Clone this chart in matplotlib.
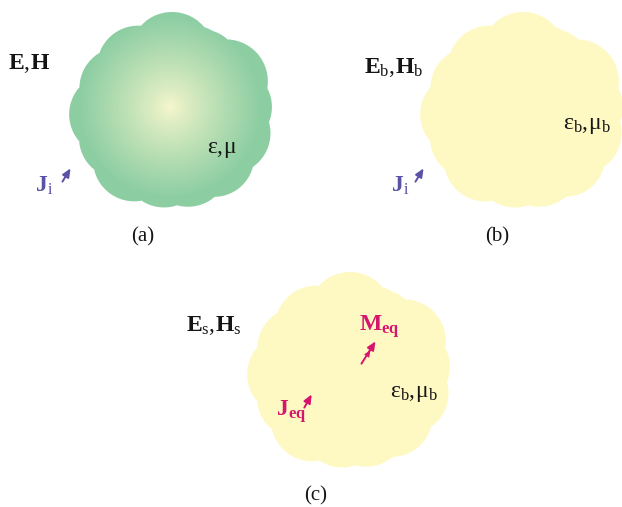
import matplotlib
matplotlib.use("Agg")
import matplotlib.pyplot as plt
import numpy as np

plt.rcParams["mathtext.fontset"] = "custom"
plt.rcParams["mathtext.rm"] = "Liberation Serif"
plt.rcParams["mathtext.bf"] = "Liberation Serif:bold"
plt.rcParams["mathtext.it"] = "Liberation Serif:italic"

# cloud outline: a core circle plus scallop circles (angle in deg, distance, radius)
core_r = 89
bump_ang = [-90, -55, -28, -3, 22, 48, 74, 98, 127, 152, 176, 203, 232]
bump_dist = [56, 52, 61, 60, 62, 63, 58, 57, 63, 60, 62, 56, 55]
bump_r = [42, 38, 42, 40, 41, 40, 41, 41, 41, 40, 41, 41, 41]

# cloud centres for panels a, b, c
cloud_x = [172, 523, 350]
cloud_y = [110, 110, 370]
panel_labels = ["(a)", "(b)", "(c)"]
label_x = [143, 497, 316]
label_y = [237, 237, 496]

green_edge = np.array([140, 205, 162]) / 255
pale_centre = np.array([248, 247, 205]) / 255
yellow = np.array([254, 249, 194]) / 255
purple = "#5a52a4"
magenta = "#d6156f"
ink = "#151515"


def draw_cloud(ax, cx, cy, inner, outer):
    # pixel centred grid so the image maps 1:1 onto the output pixels
    x0, y0 = int(cx) - 115, int(cy) - 115
    x = np.arange(x0, x0 + 230) + 0.5
    y = np.arange(y0, y0 + 230) + 0.5
    X, Y = np.meshgrid(x, y)
    d = np.hypot(X - cx, Y - cy) - core_r
    for a, dist, r in zip(bump_ang, bump_dist, bump_r):
        bx = cx + dist * np.cos(np.radians(a))
        by = cy + dist * np.sin(np.radians(a))
        d = np.minimum(d, np.hypot(X - bx, Y - by) - r)
    alpha = np.clip(0.5 - d, 0, 1)
    t = np.clip(np.hypot(X - cx + 2, Y - cy + 3) / 92, 0, 1) ** 0.85
    rgb = inner[None, None, :] * (1 - t[..., None]) + outer[None, None, :] * t[..., None]
    img = np.dstack([rgb, alpha])
    ax.imshow(img, extent=(x0, x0 + 230, y0 + 230, y0), origin="upper",
              interpolation="none", zorder=1)


fig = plt.figure(figsize=(6.22, 5.07), dpi=100)
ax = fig.add_axes([0, 0, 1, 1])
ax.axis("off")

draw_cloud(ax, cloud_x[0], cloud_y[0], pale_centre, green_edge)
draw_cloud(ax, cloud_x[1], cloud_y[1], yellow, yellow)
draw_cloud(ax, cloud_x[2], cloud_y[2], yellow, yellow)
ax.set_xlim(0, 622)
ax.set_ylim(507, 0)

fs = 17
txt = dict(fontsize=fs, color=ink, zorder=3, va="baseline", ha="left")
arrow = dict(arrowstyle="-|>,head_length=0.5,head_width=0.22", lw=1.4)

# panel a
ax.text(8, 69, r"$\mathbf{E},\!\mathbf{H}$", **txt)
ax.text(207, 153, r"$\mathrm{ε},\!\mathrm{μ}$", **txt)
ax.text(35, 192, r"$\mathbf{J}_{\mathrm{i}}$", fontsize=fs, color=purple,
        va="baseline", ha="left", zorder=3)
ax.annotate("", xy=(72, 166), xytext=(61, 184),
            arrowprops=dict(color=purple, **arrow), zorder=3)

# panel b
ax.text(364, 73, r"$\mathbf{E}_{\mathrm{b}},\!\mathbf{H}_{\mathrm{b}}$", **txt)
ax.text(563, 129, r"$\mathrm{ε}_{\mathrm{b}},\!\mathrm{μ}_{\mathrm{b}}$", **txt)
ax.text(391, 192, r"$\mathbf{J}_{\mathrm{i}}$", fontsize=fs, color=purple,
        va="baseline", ha="left", zorder=3)
ax.annotate("", xy=(425, 166), xytext=(414, 184),
            arrowprops=dict(color=purple, **arrow), zorder=3)

# panel c
ax.text(186, 331, r"$\mathbf{E}_{\mathrm{s}},\!\mathbf{H}_{\mathrm{s}}$", **txt)
ax.text(390, 397, r"$\mathrm{ε}_{\mathrm{b}},\!\mathrm{μ}_{\mathrm{b}}$", **txt)
ax.text(359, 331, r"$\mathbf{M}_{\mathbf{eq}}$", fontsize=fs, color=magenta,
        va="baseline", ha="left", zorder=3)
ax.text(276, 416, r"$\mathbf{J}_{\mathbf{eq}}$", fontsize=fs, color=magenta,
        va="baseline", ha="left", zorder=3)
ax.annotate("", xy=(313, 392), xytext=(303, 410),
            arrowprops=dict(color=magenta, **arrow), zorder=3)
ax.annotate("", xy=(377, 339), xytext=(360, 366),
            arrowprops=dict(color=magenta, **arrow), zorder=3)
ax.annotate("", xy=(372, 348), xytext=(366, 357),
            arrowprops=dict(color=magenta, arrowstyle="-|>,head_length=0.5,head_width=0.22",
                            lw=0), zorder=3)

for lx, ly, lab in zip(label_x, label_y, panel_labels):
    ax.text(lx, ly, lab, fontsize=15, ha="center", va="center",
            family="Liberation Serif", color=ink)

fig.savefig("out.png", dpi=100)
